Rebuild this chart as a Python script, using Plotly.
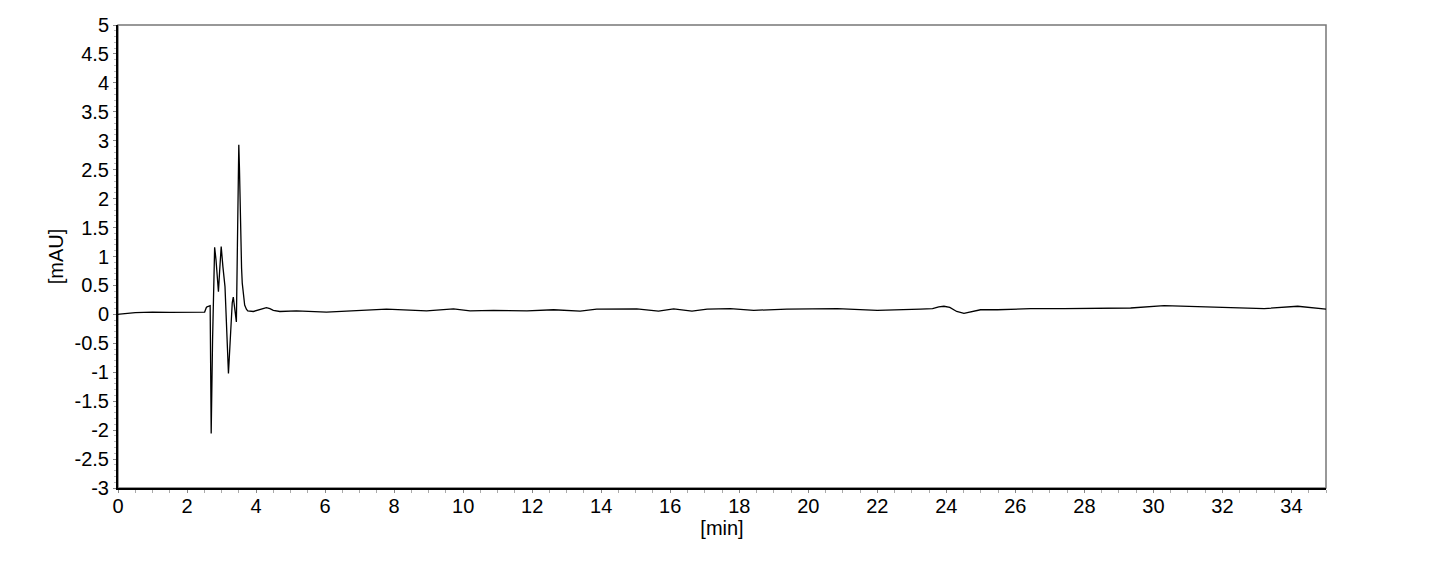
import plotly.graph_objects as go

# chromatogram trace (time in min, signal in mAU)
time_min = [
    0.0, 0.05, 0.5, 1.0, 1.5, 2.0, 2.31, 2.47, 2.51, 2.56, 2.58, 2.67,
    2.70, 2.74, 2.78, 2.80, 2.84, 2.88, 2.91, 2.95, 2.99, 3.04, 3.10, 3.20,
    3.26, 3.31, 3.34, 3.39, 3.43, 3.46, 3.50, 3.52, 3.55, 3.58, 3.60, 3.64,
    3.67, 3.72, 3.76, 3.92, 4.05, 4.20, 4.30, 4.40, 4.50, 4.69, 5.17, 6.04,
    7.01, 7.78, 8.94, 9.72, 10.2, 10.88, 11.85, 12.62, 13.39, 13.87, 15.03,
    15.66, 16.1, 16.63, 17.07, 17.74, 18.42, 19.38, 20.84, 22.0, 23.25,
    23.6, 23.78, 23.93, 24.1, 24.3, 24.51, 24.7, 24.99, 25.48, 26.44, 27.41,
    28.38, 29.34, 30.31, 31.28, 32.24, 33.21, 34.18, 34.6, 35.0,
]
signal_mau = [
    0.0, 0.005, 0.03, 0.04, 0.035, 0.04, 0.045, 0.04, 0.04, 0.12, 0.13, 0.15,
    -2.06, -0.44, 0.9, 1.16, 0.94, 0.55, 0.39, 0.8, 1.17, 0.82, 0.48, -1.02,
    -0.21, 0.2, 0.30, 0.02, -0.13, 1.2, 2.93, 2.5, 1.29, 0.8, 0.54, 0.28,
    0.16, 0.09, 0.06, 0.05, 0.07, 0.09, 0.115, 0.1, 0.07, 0.05, 0.06, 0.04,
    0.07, 0.09, 0.06, 0.095, 0.06, 0.07, 0.06, 0.08, 0.055, 0.09, 0.095,
    0.055, 0.095, 0.055, 0.09, 0.10, 0.07, 0.09, 0.10, 0.07, 0.09,
    0.10, 0.13, 0.14, 0.12, 0.05, 0.017, 0.04, 0.08, 0.08, 0.10, 0.10,
    0.11, 0.11, 0.15, 0.13, 0.11, 0.10, 0.14, 0.11, 0.09,
]

x_ticks = list(range(0, 36, 2))
y_ticks = [-3, -2.5, -2, -1.5, -1, -0.5, 0, 0.5, 1, 1.5, 2, 2.5, 3, 3.5, 4, 4.5, 5]
y_labels = [f"{v:g}" for v in y_ticks]  # plain hyphen minus like the original

font = dict(family="Liberation Sans, Arial, sans-serif", size=20, color="black")

fig = go.Figure()
fig.add_trace(go.Scatter(
    x=time_min, y=signal_mau, mode="lines",
    line=dict(color="black", width=1.3),
    hoverinfo="skip",
))

# grey frame on top/right, black axes drawn over it on left/bottom
fig.add_shape(type="rect", xref="paper", yref="paper", x0=0, x1=1, y0=0, y1=1,
              line=dict(color="#777777", width=1.5), layer="below")

fig.update_xaxes(
    range=[0, 35], tickvals=x_ticks, ticks="outside", ticklen=3, tickcolor="#888888",
    showline=True, linecolor="black", linewidth=2, showgrid=False, zeroline=False,
    minor=dict(dtick=0.5, tick0=0, ticks="outside", ticklen=3, tickcolor="#aaaaaa"),
    title=dict(text="[min]", font=font, standoff=2), tickfont=font,
    ticklabelstandoff=-4, automargin=False,
)
fig.update_yaxes(
    range=[-3, 5], tickvals=y_ticks, ticktext=y_labels, ticks="outside", ticklen=3,
    tickcolor="#888888",
    showline=True, linecolor="black", linewidth=2, showgrid=False, zeroline=False,
    minor=dict(dtick=0.1, tick0=0, ticks="outside", ticklen=2, tickcolor="#bbbbbb"),
    title=dict(text="[mAU]", font=font, standoff=6), tickfont=font,
    automargin=False,
)

fig.update_layout(
    width=1446, height=583,
    margin=dict(l=110, r=128, t=17, b=103),
    plot_bgcolor="white", paper_bgcolor="white",
    showlegend=False,
    font=font,
)

fig.write_html("out.html")
